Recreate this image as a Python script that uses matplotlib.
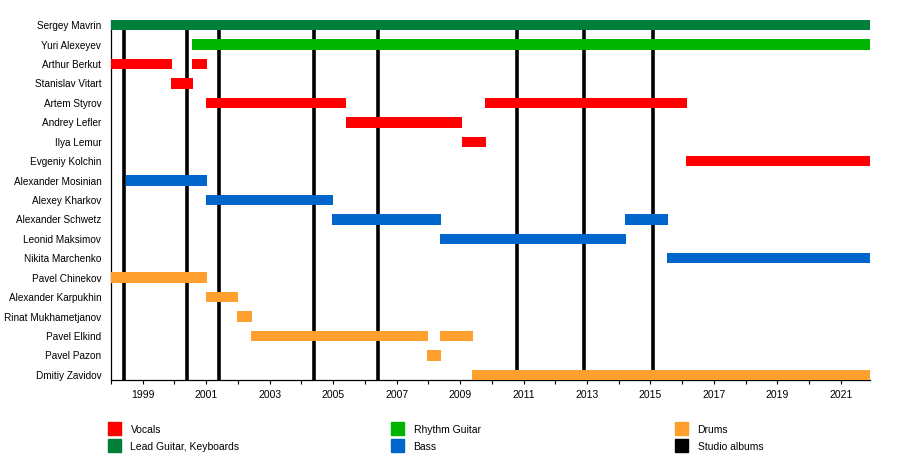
import matplotlib
matplotlib.use("Agg")
import matplotlib.pyplot as plt
from matplotlib.patches import Rectangle
from matplotlib.ticker import MultipleLocator

plt.rcParams['font.family'] = ['Liberation Sans', 'DejaVu Sans']

members = ["Sergey Mavrin", "Yuri Alexeyev", "Arthur Berkut", "Stanislav Vitart",
           "Artem Styrov", "Andrey Lefler", "Ilya Lemur", "Evgeniy Kolchin",
           "Alexander Mosinian", "Alexey Kharkov", "Alexander Schwetz",
           "Leonid Maksimov", "Nikita Marchenko", "Pavel Chinekov",
           "Alexander Karpukhin", "Rinat Mukhametjanov", "Pavel Elkind",
           "Pavel Pazon", "Dmitiy Zavidov"]

start_year = 1998.0
end_year = 2021.92

# (row, start, end)
lead_guitar = [(0, 1998.0, 2021.92)]
rhythm_guitar = [(1, 2000.55, 2021.92)]
vocals = [(2, 1998.0, 1999.92), (2, 2000.55, 2001.02), (3, 1999.89, 2000.58),
          (4, 2001.0, 2005.42), (4, 2009.8, 2016.15), (5, 2005.4, 2009.07),
          (6, 2009.05, 2009.83), (7, 2016.12, 2021.92)]
bass = [(8, 1998.47, 2001.02), (9, 2001.0, 2005.0), (10, 2004.98, 2008.4),
        (10, 2014.2, 2015.55), (11, 2008.38, 2014.23), (12, 2015.52, 2021.92)]
drums = [(13, 1998.0, 2001.02), (14, 2001.0, 2002.0), (15, 2001.97, 2002.44),
         (16, 2002.4, 2008.0), (16, 2008.38, 2009.4), (17, 2007.97, 2008.4),
         (18, 2009.39, 2021.92)]
albums = [1998.42, 2000.40, 2001.41, 2004.40, 2006.41, 2010.78, 2012.92, 2015.09]

roles = [
    ("Vocals", "#FF0000", vocals),
    ("Lead Guitar, Keyboards", "#007F3A", lead_guitar),
    ("Rhythm Guitar", "#00B400", rhythm_guitar),
    ("Bass", "#0066CC", bass),
    ("Drums", "#FFA02E", drums),
]

fig = plt.figure(figsize=(9, 4.7), dpi=100)
ax = fig.add_axes([111 / 900, 90 / 470, 759 / 900, 360 / 470])

bar_h = 0.54
for label, color, spans in roles:
    for row, a, b in spans:
        ax.barh(row, b - a, left=a, height=bar_h, color=color, zorder=3)

for x in albums:
    ax.axvline(x, color="black", lw=2.6, zorder=2)

ax.set_xlim(start_year, end_year)
ax.set_ylim(len(members) - 1 + bar_h / 2, -bar_h / 2)
ax.set_yticks(range(len(members)))
ax.set_yticklabels(members, fontsize=7.2)
ax.tick_params(axis="y", length=0, pad=7)

ax.xaxis.set_major_locator(MultipleLocator(2, offset=1))
ax.xaxis.set_minor_locator(MultipleLocator(1))
ax.xaxis.set_major_formatter(lambda v, p: str(int(round(v))))
ax.tick_params(axis="x", which="both", length=3, width=0.8, labelsize=7.5, pad=4)

for s in ["top", "right"]:
    ax.spines[s].set_visible(False)
ax.spines["left"].set_linewidth(0.9)
ax.spines["bottom"].set_linewidth(0.9)

# legend
legend_items = [
    ("Vocals", "#FF0000", 108, 430),
    ("Lead Guitar, Keyboards", "#007F3A", 108, 447),
    ("Rhythm Guitar", "#00B400", 391, 430),
    ("Bass", "#0066CC", 391, 447),
    ("Drums", "#FFA02E", 675, 430),
    ("Studio albums", "black", 675, 447),
]
for text, color, px, py in legend_items:
    fig.add_artist(Rectangle((px / 900, (470 - py - 5) / 470), 13 / 900, 13 / 470,
                             color=color, transform=fig.transFigure))
    fig.text((px + 22.5) / 900, (470 - py) / 470, text, fontsize=7.5, va="center")

fig.savefig("out.png", dpi=100)
